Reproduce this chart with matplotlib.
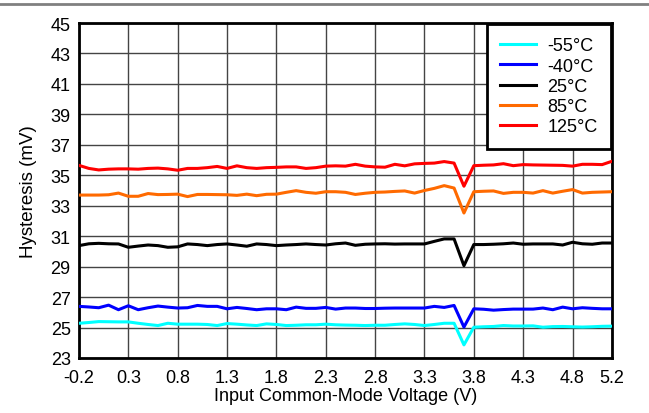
import numpy as np
import matplotlib
matplotlib.use('Agg')
import matplotlib.pyplot as plt
from matplotlib.lines import Line2D

plt.rcParams['font.family'] = ['Liberation Sans', 'DejaVu Sans']

# input common-mode voltage, 0.1 V steps
vcm = np.round(np.arange(-0.2, 5.2001, 0.1), 2)

h_m55 = [25.28, 25.33, 25.39, 25.38, 25.37, 25.37, 25.28, 25.20, 25.13, 25.28,
         25.22, 25.22, 25.22, 25.20, 25.13, 25.26, 25.22, 25.17, 25.13, 25.24,
         25.20, 25.13, 25.15, 25.18, 25.18, 25.22, 25.18, 25.16, 25.15, 25.13,
         25.15, 25.15, 25.20, 25.24, 25.20, 25.13, 25.20, 25.28, 25.28, 23.86,
         25.02, 25.05, 25.07, 25.13, 25.10, 25.10, 25.11, 25.02, 25.06, 25.07,
         25.05, 25.03, 25.05, 25.08, 25.09]
h_m40 = [26.39, 26.35, 26.30, 26.47, 26.17, 26.43, 26.17, 26.30, 26.41, 26.34,
         26.28, 26.30, 26.45, 26.39, 26.39, 26.23, 26.32, 26.25, 26.17, 26.23,
         26.23, 26.17, 26.34, 26.26, 26.26, 26.32, 26.21, 26.28, 26.28, 26.25,
         26.25, 26.27, 26.28, 26.28, 26.28, 26.28, 26.39, 26.32, 26.45, 25.03,
         26.23, 26.20, 26.14, 26.18, 26.21, 26.21, 26.21, 26.28, 26.17, 26.34,
         26.23, 26.30, 26.26, 26.23, 26.23]
h_25 = [30.38, 30.50, 30.53, 30.50, 30.49, 30.27, 30.35, 30.42, 30.38, 30.27,
        30.30, 30.49, 30.45, 30.38, 30.45, 30.49, 30.42, 30.34, 30.49, 30.45,
        30.38, 30.42, 30.45, 30.49, 30.45, 30.42, 30.50, 30.55, 30.40, 30.47,
        30.49, 30.50, 30.48, 30.49, 30.49, 30.49, 30.66, 30.82, 30.82, 29.06,
        30.45, 30.45, 30.47, 30.50, 30.55, 30.47, 30.49, 30.49, 30.49, 30.42,
        30.60, 30.50, 30.47, 30.55, 30.55]
h_85 = [33.70, 33.70, 33.70, 33.72, 33.83, 33.62, 33.62, 33.80, 33.73, 33.74,
        33.76, 33.60, 33.74, 33.74, 33.73, 33.72, 33.68, 33.76, 33.66, 33.75,
        33.76, 33.88, 33.99, 33.88, 33.82, 33.92, 33.92, 33.88, 33.74, 33.82,
        33.88, 33.90, 33.94, 33.97, 33.83, 34.00, 34.14, 34.32, 34.16, 32.52,
        33.92, 33.95, 33.97, 33.81, 33.88, 33.88, 33.83, 33.99, 33.83, 33.95,
        34.06, 33.83, 33.88, 33.90, 33.92]
h_125 = [35.65, 35.45, 35.35, 35.40, 35.42, 35.42, 35.40, 35.45, 35.47, 35.42,
         35.33, 35.45, 35.45, 35.50, 35.58, 35.45, 35.62, 35.50, 35.45, 35.50,
         35.52, 35.55, 35.55, 35.45, 35.50, 35.60, 35.62, 35.60, 35.72, 35.60,
         35.55, 35.53, 35.72, 35.62, 35.75, 35.78, 35.80, 35.90, 35.80, 34.28,
         35.63, 35.66, 35.68, 35.76, 35.63, 35.70, 35.68, 35.67, 35.66, 35.65,
         35.60, 35.72, 35.72, 35.70, 35.92]

labels = ['-55°C', '-40°C', '25°C', '85°C', '125°C']
colors = ['#00FFFF', '#0000FF', '#000000', '#FF6A00', '#FF0000']
series = [h_m55, h_m40, h_25, h_85, h_125]

xticks = [-0.2, 0.3, 0.8, 1.3, 1.8, 2.3, 2.8, 3.3, 3.8, 4.3, 4.8, 5.2]
xticklabels = ['-0.2', '0.3', '0.8', '1.3', '1.8', '2.3', '2.8', '3.3', '3.8', '4.3', '4.8', '5.2']
yticks = [23, 25, 27, 29, 31, 33, 35, 37, 39, 41, 43, 45]

fig = plt.figure(figsize=(6.49, 4.14), dpi=100)
ax = fig.add_axes([0.1217, 0.1329, 0.8213, 0.8091])

for y, c, l in zip(series, colors, labels):
    ax.plot(vcm, y, color=c, lw=2.2, label=l, zorder=3)

ax.set_xlim(-0.2, 5.2)
ax.set_ylim(23, 45)
ax.set_xticks(xticks)
ax.set_xticklabels(xticklabels, fontsize=13)
ax.set_yticks(yticks)
ax.set_yticklabels([str(t) for t in yticks], fontsize=13)
ax.tick_params(length=0)
ax.tick_params(axis='x', pad=8)
ax.tick_params(axis='y', pad=6)
ax.grid(True, color='#444444', lw=1.0)
for s in ax.spines.values():
    s.set_linewidth(2)
    s.set_color('black')

ax.set_xlabel('Input Common-Mode Voltage (V)', fontsize=13, labelpad=1)
ax.set_ylabel('Hysteresis (mV)', fontsize=13.5, labelpad=10)

leg = ax.legend(loc='upper right', fontsize=13, fancybox=False, framealpha=1,
                borderaxespad=0.05, handlelength=2.0, labelspacing=0.18,
                borderpad=0.75, handletextpad=0.6)
leg.get_frame().set_edgecolor('black')
leg.get_frame().set_linewidth(2)

fig.add_artist(Line2D([0, 1], [0.988, 0.988], color='#808080', lw=2))

plt.savefig('out.png', dpi=100)
